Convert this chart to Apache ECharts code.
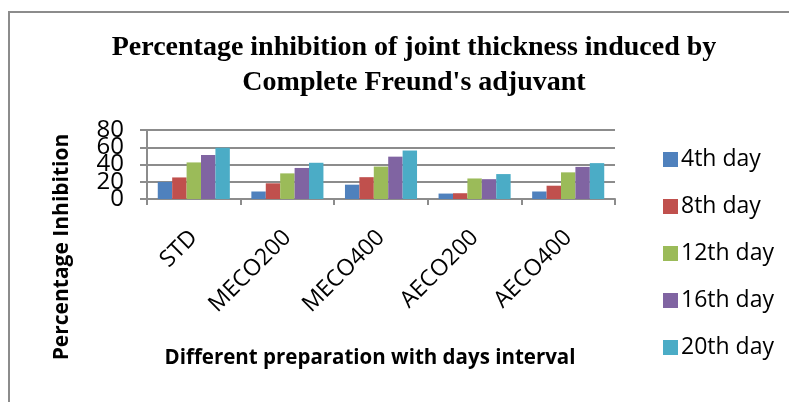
<!DOCTYPE html>
<html>
<head>
<meta charset="utf-8">
<script src="https://cdn.jsdelivr.net/npm/echarts@6/dist/echarts.min.js"></script>
<style>
  html, body { margin: 0; padding: 0; background: #fff; }
  #chart { width: 789px; height: 402px; }
</style>
</head>
<body>
<div id="chart"></div>
<script>
// Preparations on the x axis
const categories = ['STD', 'MECO200', 'MECO400', 'AECO200', 'AECO400'];

// Percentage inhibition per measurement day
const day4 = [19.8, 8.7, 16.6, 6.3, 8.7];
const day8 = [25.0, 18.2, 25.3, 6.7, 15.4];
const day12 = [42.4, 29.7, 37.6, 23.8, 30.9];
const day16 = [51.0, 36.0, 49.1, 23.0, 37.2];
const day20 = [59.4, 42.0, 56.2, 28.9, 41.6];

const seriesNames = ['4th day', '8th day', '12th day', '16th day', '20th day'];
const seriesColors = ['#4F81BD', '#C0504D', '#9BBB59', '#8064A2', '#4BACC6'];

const yTicks = [0, 20, 40, 60, 80];
const yStep = 20;

const chart = echarts.init(document.getElementById('chart'), null, { renderer: 'canvas' });

const sansBold = '"Open Sans", "Noto Sans", sans-serif';
const tickFont = { fontFamily: '"Open Sans", sans-serif', fontSize: 24, color: '#000' };

const series = [day4, day8, day12, day16, day20].map((vals, i) => ({
  name: seriesNames[i],
  type: 'bar',
  data: vals,
  barGap: '0%',
  barCategoryGap: '23%',
  itemStyle: { color: seriesColors[i] },
  animation: false
}));

// The tick labels are large and packed tightly, so they are split over two
// coincident value axes (even and odd steps) to keep every one of them drawn.
function valueAxis(showSet, isMain) {
  return {
    type: 'value',
    position: 'left',
    min: yTicks[0],
    max: yTicks[yTicks.length - 1],
    interval: yStep,
    axisLine: { show: isMain, lineStyle: { color: '#8c8c8c', width: 2 } },
    axisTick: { show: isMain, length: 7, lineStyle: { color: '#8c8c8c', width: 2 } },
    splitLine: { show: isMain, lineStyle: { color: '#8c8c8c', width: 2 } },
    axisLabel: Object.assign({
      margin: 23,
      showMinLabel: true,
      showMaxLabel: true,
      hideOverlap: false,
      formatter: v => (showSet.indexOf(v) >= 0 ? String(v) : '')
    }, tickFont)
  };
}

chart.setOption({
  animation: false,
  backgroundColor: '#ffffff',
  title: {
    text: 'Percentage inhibition of joint thickness induced by\nComplete Freund\'s adjuvant',
    left: 409,
    top: 25,
    textAlign: 'center',
    textStyle: {
      fontFamily: '"Liberation Serif", "Times New Roman", serif',
      fontWeight: 'bold',
      fontSize: 28,
      lineHeight: 35,
      color: '#000'
    }
  },
  legend: {
    orient: 'vertical',
    left: 658,
    top: 143,
    itemWidth: 15,
    itemHeight: 15,
    itemGap: 24,
    icon: 'rect',
    textStyle: {
      fontFamily: '"Open Sans", sans-serif',
      fontSize: 23,
      color: '#000',
      padding: [0, 0, 0, -2]
    },
    data: seriesNames
  },
  grid: {
    left: 147,
    right: 789 - 615,
    top: 130,
    bottom: 402 - 199,
    containLabel: false
  },
  xAxis: {
    type: 'category',
    data: categories,
    boundaryGap: true,
    axisLine: { show: true, lineStyle: { color: '#8c8c8c', width: 2 } },
    axisTick: { show: true, length: 6, lineStyle: { color: '#8c8c8c', width: 2 } },
    axisLabel: {
      rotate: 45,
      margin: 35,
      fontFamily: '"Open Sans", sans-serif',
      fontSize: 23,
      color: '#000'
    }
  },
  yAxis: [
    valueAxis(yTicks.filter((v, i) => i % 2 === 0), true),
    valueAxis(yTicks.filter((v, i) => i % 2 === 1), false)
  ],
  graphic: [
    {
      type: 'rect',
      shape: { x: 9, y: 12, width: 800, height: 400 },
      style: { fill: 'none', stroke: '#8c8c8c', lineWidth: 2 },
      silent: true
    },
    {
      type: 'text',
      x: 62,
      y: 247,
      rotation: Math.PI / 2,
      style: {
        text: 'Percentage Inhibition',
        fontFamily: sansBold,
        fontWeight: 'bold',
        fontSize: 21,
        fill: '#000',
        align: 'center',
        verticalAlign: 'middle'
      }
    },
    {
      type: 'text',
      x: 370,
      y: 358,
      style: {
        text: 'Different preparation with days interval',
        fontFamily: sansBold,
        fontWeight: 'bold',
        fontSize: 20.5,
        fill: '#000',
        align: 'center',
        verticalAlign: 'middle'
      }
    }
  ],
  series: series
});
</script>
</body>
</html>
